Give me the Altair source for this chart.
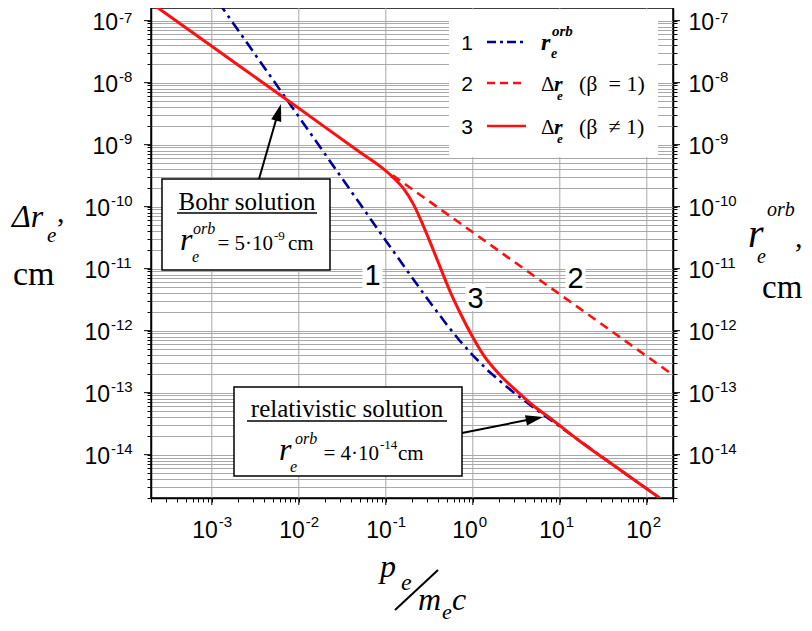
import altair as alt
import pandas as pd

# ---------------- data ----------------
# curve 1: r_e^orb (blue dash-dot)
x_orb = [1.2e-3, 2e-3, 5e-3, 1e-2, 2e-2, 5e-2, 0.1, 0.2, 0.3, 0.5, 0.7, 1.0,
         1.5, 2.0, 3.0, 5.0, 7.0, 10.0, 20.0, 50.0, 100.0, 200.0]
r_orb = [1.96e-7, 7.05e-8, 1.13e-8, 2.82e-9, 7.05e-10, 1.13e-10, 2.83e-11,
         7.2e-12, 3.27e-12, 1.26e-12, 7.0e-13, 4.0e-13, 2.26e-13, 1.58e-13,
         9.9e-14, 5.75e-14, 4.07e-14, 2.84e-14, 1.41e-14, 5.6e-15, 2.82e-15, 1.41e-15]

# curve 2: delta r_e (beta = 1) (red dashed)
x_b1 = [0.12, 1.0, 10.0, 100.0, 200.0]
dr_b1 = [3.2e-10, 3.86e-11, 3.86e-12, 3.86e-13, 1.93e-13]

# curve 3: delta r_e (beta != 1) (red solid)
x_bn = [2e-4, 1e-3, 1e-2, 0.05, 0.09, 0.12, 0.16, 0.21, 0.27, 0.355, 0.45, 0.56,
        0.73, 0.95, 1.34, 2.1, 3.3, 5.0, 7.9, 16.0, 50.0, 143.0, 200.0]
dr_bn = [1.93e-7, 3.86e-8, 3.86e-9, 7.6e-10, 4.25e-10, 3.0e-10, 1.95e-10, 1.06e-10,
         4.9e-11, 1.93e-11, 8.4e-12, 4.0e-12, 1.82e-12, 8.9e-13, 3.95e-13, 1.86e-13,
         1.02e-13, 6.1e-14, 3.8e-14, 1.76e-14, 5.6e-15, 1.97e-15, 1.41e-15]

# axis ticks
x_exps = [-3, -2, -1, 0, 1, 2]
y_exps = [-14, -13, -12, -11, -10, -9, -8, -7]
x_domain = [2e-4, 2e2]
y_domain = [2e-15, 1.6e-7]

# ---------------- helpers ----------------
SERIF = "Liberation Serif"
SANS = "Liberation Sans"
BLUE = "#000099"
RED = "#ff1010"
GRID = "#a9a9a9"
X0, Y0 = 151, 8          # page position of plot's top-left corner
W, H = 522, 490

one = pd.DataFrame({"k": [0]})

def in_dom(v, dom):
    return dom[0] * 0.999 <= v <= dom[1] * 1.001

def ticks(exps_lo, exps_hi, dom):
    vals = []
    for n in range(exps_lo, exps_hi + 1):
        for k in range(1, 10):
            v = float(f"{k}e{n}")
            if in_dom(v, dom):
                vals.append(v)
    return vals

x_vals = ticks(-4, 2, x_domain)
y_vals = ticks(-15, -7, y_domain)
x_dec = [float(f"1e{e}") for e in x_exps]
y_dec = [float(f"1e{e}") for e in y_exps]

xs = alt.Scale(type="log", domain=x_domain, nice=False)
ys = alt.Scale(type="log", domain=y_domain, nice=False)

def T(s, x, y, size, style="normal", weight="normal", font=SERIF, align="left"):
    return alt.Chart(one).mark_text(
        text=s, font=font, fontSize=size, fontStyle=style, fontWeight=weight,
        align=align, baseline="alphabetic", color="black"
    ).encode(x=alt.value(x - X0), y=alt.value(y - Y0))

def R(x1, y1, x2, y2, color="black", width=1.5, dash=None):
    kw = dict(color=color, strokeWidth=width)
    if dash:
        kw["strokeDash"] = dash
    return alt.Chart(one).mark_rule(**kw).encode(
        x=alt.value(x1 - X0), y=alt.value(y1 - Y0),
        x2=alt.value(x2 - X0), y2=alt.value(y2 - Y0))

def BOX(x1, y1, x2, y2, stroke=None):
    kw = dict(fill="white")
    if stroke:
        kw.update(stroke=stroke, strokeWidth=1.5)
    else:
        kw.update(strokeWidth=0)
    return alt.Chart(one).mark_rect(**kw).encode(
        x=alt.value(x1 - X0), y=alt.value(y1 - Y0),
        x2=alt.value(x2 - X0), y2=alt.value(y2 - Y0))

def HEAD(x, y, angle):
    return alt.Chart(one).mark_point(
        shape="M0,0L-0.6,2L0.6,2Z", size=300, filled=True, color="black",
        opacity=1, angle=angle, strokeWidth=0
    ).encode(x=alt.value(x - X0), y=alt.value(y - Y0))

def line(xv, yv, color, width, dash=None, interp="linear"):
    df = pd.DataFrame({"x": xv, "y": yv})
    kw = dict(color=color, strokeWidth=width, clip=True, interpolate=interp)
    if dash:
        kw["strokeDash"] = dash
    return alt.Chart(df).mark_line(**kw).encode(
        x=alt.X("x:Q", scale=xs, axis=None),
        y=alt.Y("y:Q", scale=ys, axis=None))

# ---------------- axes / grid ----------------
left_axis = alt.Chart(pd.DataFrame({"y": y_dec})).mark_point(opacity=0).encode(
    y=alt.Y("y:Q", scale=ys, axis=alt.Axis(
        orient="left", values=y_vals, grid=True, gridColor=GRID, gridWidth=1,
        labels=False, title=None, tickSize=4)))

right_axis = alt.Chart(pd.DataFrame({"y": y_dec})).mark_point(opacity=0).encode(
    y=alt.Y("y:Q", scale=ys, axis=alt.Axis(
        orient="right", values=y_vals, grid=False, labels=False, title=None,
        tickSize=4)))

vgrid = alt.Chart(pd.DataFrame({"x": x_dec})).mark_rule(color=GRID, strokeWidth=1).encode(
    x=alt.X("x:Q", scale=xs, axis=alt.Axis(
        orient="bottom", values=x_vals, grid=False, labels=False, title=None,
        tickSize=4)))

xdec_df = pd.DataFrame({"x": x_dec, "exp": [str(e) for e in x_exps]})
ydec_df = pd.DataFrame({"y": y_dec, "exp": [str(e) for e in y_exps]})

major_ticks = [
    alt.Chart(xdec_df).mark_rule(color="black", strokeWidth=1).encode(
        x=alt.X("x:Q", scale=xs, axis=None), y=alt.value(H), y2=alt.value(H + 7)),
    alt.Chart(ydec_df).mark_rule(color="black", strokeWidth=1).encode(
        y=alt.Y("y:Q", scale=ys, axis=None), x=alt.value(-7), x2=alt.value(0)),
    alt.Chart(ydec_df).mark_rule(color="black", strokeWidth=1).encode(
        y=alt.Y("y:Q", scale=ys, axis=None), x=alt.value(W), x2=alt.value(W + 7)),
]

# tick labels "10" + superscript exponent
def xlabels(sel, jdx):
    df = xdec_df[xdec_df["x"].isin([float(f"1e{e}") for e in sel])]
    base = alt.Chart(df).mark_text(
        text="10", font=SANS, fontSize=23, align="right", baseline="alphabetic",
        dx=jdx, color="black").encode(
        x=alt.X("x:Q", scale=xs, axis=None), y=alt.value(H + 40))
    sup = alt.Chart(df).mark_text(
        font=SANS, fontSize=15, align="left", baseline="alphabetic",
        dx=jdx + 1, color="black").encode(
        x=alt.X("x:Q", scale=xs, axis=None), y=alt.value(H + 29), text="exp:N")
    return [base, sup]

def ylabels(sel, xj, sup_dy=-1):
    df = ydec_df[ydec_df["y"].isin([float(f"1e{e}") for e in sel])]
    base = alt.Chart(df).mark_text(
        text="10", font=SANS, fontSize=23, align="right", baseline="alphabetic",
        dy=9, color="black").encode(
        y=alt.Y("y:Q", scale=ys, axis=None), x=alt.value(xj))
    sup = alt.Chart(df).mark_text(
        font=SANS, fontSize=15, align="left", baseline="alphabetic",
        dy=sup_dy, color="black").encode(
        y=alt.Y("y:Q", scale=ys, axis=None), x=alt.value(xj + 1), text="exp:N")
    return [base, sup]

tick_labels = []
tick_labels += xlabels([-3, -2, -1], 6)
tick_labels += xlabels([0, 1, 2], 5)
tick_labels += ylabels([-7], 118 - X0, sup_dy=2)
tick_labels += ylabels([-9, -8], 118 - X0)
tick_labels += ylabels([-14, -13, -12, -11, -10], 110 - X0)
tick_labels += ylabels([-7], W + 15 + 26, sup_dy=2)
tick_labels += ylabels(y_exps[:-1], W + 15 + 26)

# ---------------- curves ----------------
c1 = line(x_orb, r_orb, BLUE, 2.6, dash=[11, 5, 3, 5])
c2 = line(x_b1, dr_b1, RED, 2.6, dash=[9, 6])
c3 = line(x_bn, dr_bn, RED, 3, interp="monotone")

layers = [left_axis, vgrid, right_axis] + major_ticks + tick_labels + [c1, c2, c3]

# ---------------- legend ----------------
layers += [BOX(449, 9.5, 658, 157)]
rows = [42, 83, 126]
layers += [
    T("1", 467, rows[0] + 8, 21, font=SANS, align="center"),
    T("2", 467, rows[1] + 8, 21, font=SANS, align="center"),
    T("3", 467, rows[2] + 8, 21, font=SANS, align="center"),
    R(487, rows[0], 526, rows[0], color=BLUE, width=2.6, dash=[9, 4, 3, 4]),
    R(487, rows[1], 526, rows[1], color=RED, width=2.6, dash=[8, 5]),
    R(487, rows[2], 526, rows[2], color=RED, width=2.6),
    T("r", 541, rows[0] + 8, 24, style="italic", weight="bold"),
    T("orb", 552, rows[0] - 6, 15, style="italic", weight="bold"),
    T("e", 551, rows[0] + 16, 14, style="italic", weight="bold"),
]
for r, lab in [(rows[1], "(\u03b2\u00a0 = 1)"), (rows[2], "(\u03b2\u00a0 \u2260 1)")]:
    layers += [
        T("\u0394", 541, r + 8, 21),
        T("r", 554, r + 8, 22, style="italic", weight="bold"),
        T("e", 557, r + 17, 13, style="italic", weight="bold"),
        T(lab, 579, r + 8, 22),
    ]

# ---------------- curve numbers ----------------
for lab, cx, base in [("1", 372.5, 285), ("3", 475.5, 308), ("2", 575.5, 288)]:
    layers += [BOX(cx - 10, base - 24, cx + 10, base + 3),
               T(lab, cx, base, 29, font=SANS, align="center")]

# ---------------- Bohr annotation ----------------
layers += [
    R(259, 179, 278, 113, width=2),
    HEAD(281, 104, 16),
    BOX(162, 179, 330, 270, stroke="black"),
    T("Bohr solution", 247, 210, 25, align="center"),
    R(177, 213, 317, 213, width=1.5),
    T("r", 180, 250, 32, style="italic"),
    T("orb", 193, 234, 16, style="italic"),
    T("e", 192, 262, 16, style="italic"),
    T("= 5\u00b710", 273, 250, 21, align="right"),
    T("-9", 274, 240, 13),
    T("cm", 288, 250, 21),
]

# ---------------- relativistic annotation ----------------
layers += [
    R(462, 433, 527, 420, width=2),
    HEAD(543, 417, 79),
    BOX(234, 387, 462, 476, stroke="black"),
    T("relativistic solution", 347, 417, 25, align="center"),
    R(247, 421, 447, 421, width=1.5),
    T("r", 279, 460, 32, style="italic"),
    T("orb", 295, 444, 16, style="italic"),
    T("e", 290, 472, 16, style="italic"),
    T("= 4\u00b710", 379, 460, 21, align="right"),
    T("-14", 380, 449, 13),
    T("cm", 398, 460, 21),
]

# ---------------- axis titles ----------------
layers += [
    # left
    T("\u0394r", 12, 227, 32, style="italic"),
    T("e", 47, 242, 21, style="italic"),
    T(",", 57, 222, 30),
    T("cm", 13, 285, 34),
    # right
    T("r", 748, 247, 40, style="italic"),
    T("orb", 767, 216, 20, style="italic"),
    T("e", 757, 263, 20, style="italic"),
    T(",", 795, 247, 30),
    T("cm", 762, 298, 33),
    # bottom
    T("p", 380, 577, 32, style="italic"),
    T("e", 401, 590, 24, style="italic"),
    R(395, 610, 438, 570, width=2),
    T("m", 418, 610, 32, style="italic"),
    T("e", 442, 619, 22, style="italic"),
    T("c", 452, 610, 32, style="italic"),
]

chart = alt.layer(*layers).resolve_scale(x="independent", y="independent").properties(
    width=W, height=H,
    padding={"left": 143, "top": 0, "right": 131, "bottom": 125},
    autosize="none",
    background="white",
).configure_view(stroke="black", strokeWidth=1.5).configure_axis(
    domainColor="black", domainWidth=1.5, tickColor="black", tickWidth=1,
    labelColor="black", labelFont=SANS, labelFontSize=22,
)

chart.save("out.html", embed_options={"renderer": "svg", "actions": False})
